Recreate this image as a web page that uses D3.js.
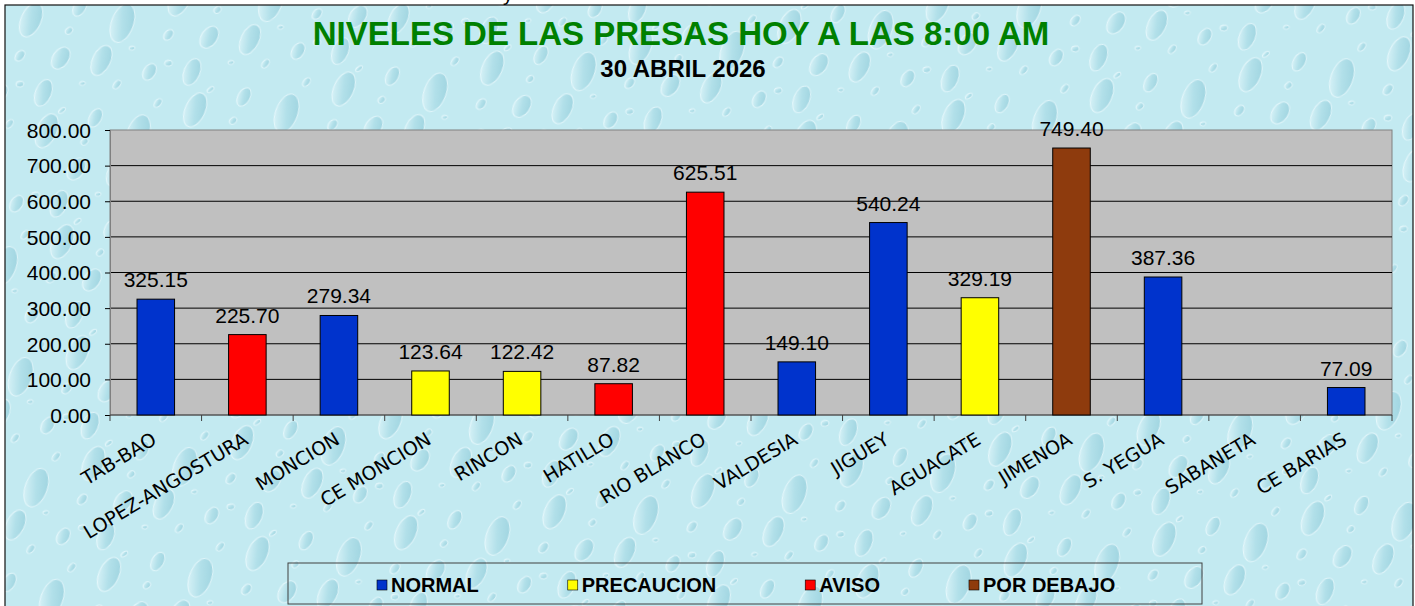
<!DOCTYPE html>
<html>
<head>
<meta charset="utf-8">
<script src="https://cdn.jsdelivr.net/npm/d3@7"></script>
<style>
  html, body { margin: 0; padding: 0; background: #fff; }
  svg { display: block; }
</style>
</head>
<body>
<div id="chart"></div>
<script>
// data
const presas = ["TAB-BAO", "LOPEZ-ANGOSTURA", "MONCION", "CE MONCION", "RINCON", "HATILLO",
  "RIO BLANCO", "VALDESIA", "JIGUEY", "AGUACATE", "JIMENOA", "S. YEGUA", "SABANETA", "CE BARIAS"];
const niveles = [325.15, 225.70, 279.34, 123.64, 122.42, 87.82, 625.51, 149.10, 540.24, 329.19,
  749.40, 387.36, null, 77.09];
const estados = ["NORMAL", "AVISO", "NORMAL", "PRECAUCION", "PRECAUCION", "AVISO", "AVISO",
  "NORMAL", "NORMAL", "PRECAUCION", "POR DEBAJO", "NORMAL", null, "NORMAL"];
const leyenda = ["NORMAL", "PRECAUCION", "AVISO", "POR DEBAJO"];
const colores = ["#0033cc", "#ffff00", "#ff0000", "#8e3b0d"];
const yTicks = [0, 100, 200, 300, 400, 500, 600, 700, 800];

const W = 1415, H = 606;
const plot = { left: 110, top: 130, right: 1392, bottom: 415 };
const FONT = "'Liberation Sans', Arial, sans-serif";

let svg = d3.select("#chart").append("svg")
  .attr("width", W).attr("height", H);

// water drop background (rough stand-in for the picture texture)
let defs = svg.append("defs");
let grad = defs.append("linearGradient").attr("id", "drop")
  .attr("x1", "0.2").attr("y1", "0").attr("x2", "0.8").attr("y2", "1");
grad.append("stop").attr("offset", "0").attr("stop-color", "#e8f9fc");
grad.append("stop").attr("offset", "0.5").attr("stop-color", "#a6d9e4");
grad.append("stop").attr("offset", "1").attr("stop-color", "#86c5d4");

let pat = defs.append("pattern").attr("id", "drops")
  .attr("patternUnits", "userSpaceOnUse")
  .attr("width", 150).attr("height", 112)
  .attr("patternTransform", "rotate(-8)");
pat.append("rect").attr("width", 150).attr("height", 112).attr("fill", "#c3eaf1");
// cx, cy, rx, ry, angle
const gotas = [
  [28, 24, 18, 10, -58], [78, 18, 10, 6, -52], [118, 40, 20, 11, -62], [52, 66, 12, 8, -48],
  [12, 58, 6, 4, -40], [92, 74, 16, 9, -56], [138, 92, 9, 6, -50], [30, 98, 14, 8, -60],
  [64, 40, 4, 3, -30], [104, 100, 5, 3, -40], [142, 12, 5, 3, -40], [8, 86, 4, 3, 0],
  [70, 94, 3, 2, 0], [46, 6, 4, 2, -30], [124, 66, 3, 2, 0]
];
pat.selectAll("ellipse").data(gotas).enter().append("ellipse")
  .attr("cx", d => d[0]).attr("cy", d => d[1])
  .attr("rx", d => d[2]).attr("ry", d => d[3])
  .attr("transform", d => `rotate(${d[4]},${d[0]},${d[1]})`)
  .attr("fill", "url(#drop)").attr("fill-opacity", 0.6)
  .attr("stroke", "#f2fdff").attr("stroke-opacity", 0.7).attr("stroke-width", 1);

svg.append("rect").attr("x", 5).attr("y", 5).attr("width", W - 7).attr("height", H)
  .attr("fill", "url(#drops)").attr("stroke", "#111").attr("stroke-width", 1.2);

// glyph tail cut by the top edge, as in the picture
svg.append("text").attr("x", 503).attr("y", 1).attr("font-family", FONT)
  .attr("font-size", 20).attr("fill", "#000").text("y");

// titles
svg.append("text").attr("x", 681).attr("y", 45).attr("text-anchor", "middle")
  .attr("font-family", FONT).attr("font-weight", "bold").attr("font-size", 33)
  .attr("fill", "#008000").text("NIVELES DE LAS PRESAS HOY A LAS 8:00 AM");
svg.append("text").attr("x", 683).attr("y", 77).attr("text-anchor", "middle")
  .attr("font-family", FONT).attr("font-weight", "bold").attr("font-size", 24)
  .attr("fill", "#000").text("30 ABRIL 2026");

// scales
let x = d3.scaleBand().domain(presas).range([plot.left, plot.right]).padding(0);
let y = d3.scaleLinear().domain([0, 800]).range([plot.bottom, plot.top]);
let color = d3.scaleOrdinal().domain(leyenda).range(colores);

// plot area
svg.append("rect").attr("x", plot.left).attr("y", plot.top)
  .attr("width", plot.right - plot.left).attr("height", plot.bottom - plot.top)
  .attr("fill", "#c0c0c0").attr("stroke", "#808080").attr("stroke-width", 1);

svg.append("g").selectAll("line").data(yTicks.slice(1, -1)).enter().append("line")
  .attr("x1", plot.left).attr("x2", plot.right)
  .attr("y1", d => y(d)).attr("y2", d => y(d))
  .attr("stroke", "#000").attr("stroke-width", 1);

// y axis
let yAxis = svg.append("g").attr("transform", `translate(${plot.left},0)`)
  .call(d3.axisLeft(y).tickValues(yTicks).tickFormat(d3.format(".2f")).tickSize(5).tickPadding(14));
yAxis.select(".domain").attr("stroke", "#808080");
yAxis.selectAll(".tick line").attr("stroke", "#000");
yAxis.selectAll("text").attr("font-family", FONT).attr("font-size", 21).attr("fill", "#000")
  .attr("dy", "0.35em");

// x axis: ticks on band edges
let edges = presas.map(d => x(d)).concat([plot.right]);
svg.append("line").attr("x1", plot.left).attr("x2", plot.right)
  .attr("y1", plot.bottom).attr("y2", plot.bottom).attr("stroke", "#404040");
svg.append("g").selectAll("line").data(edges).enter().append("line")
  .attr("x1", d => d).attr("x2", d => d)
  .attr("y1", plot.bottom).attr("y2", plot.bottom + 6)
  .attr("stroke", "#404040");

svg.append("g").selectAll("text").data(presas).enter().append("text")
  .attr("transform", d => `translate(${x(d) + x.bandwidth() / 2 + 2},${plot.bottom + 28}) rotate(-31)`)
  .attr("text-anchor", "end")
  .attr("font-family", "'DejaVu Sans', Verdana, sans-serif").attr("font-size", 19)
  .attr("fill", "#000").text(d => d);

// bars
let filas = presas.map((p, i) => ({ presa: p, nivel: niveles[i], estado: estados[i] }))
  .filter(d => d.nivel != null);
let bw = x.bandwidth() * 0.41;
svg.append("g").selectAll("rect").data(filas).enter().append("rect")
  .attr("x", d => x(d.presa) + (x.bandwidth() - bw) / 2)
  .attr("y", d => y(d.nivel))
  .attr("width", bw)
  .attr("height", d => y(0) - y(d.nivel))
  .attr("fill", d => color(d.estado))
  .attr("stroke", "#000").attr("stroke-width", 1);

svg.append("g").selectAll("text").data(filas).enter().append("text")
  .attr("x", d => x(d.presa) + x.bandwidth() / 2)
  .attr("y", d => y(d.nivel) - 12)
  .attr("text-anchor", "middle")
  .attr("font-family", FONT).attr("font-size", 21).attr("fill", "#000")
  .text(d => d3.format(".2f")(d.nivel));

// legend
let leg = svg.append("g");
leg.append("rect").attr("x", 288).attr("y", 563).attr("width", 914).attr("height", 41)
  .attr("fill", "none").attr("stroke", "#404040").attr("stroke-width", 1);
let lx = 377;
leyenda.forEach((k, i) => {
  leg.append("rect").attr("x", lx).attr("y", 580).attr("width", 10).attr("height", 10)
    .attr("fill", colores[i]).attr("stroke", "#000").attr("stroke-width", 0.6);
  let t = leg.append("text").attr("x", lx + 14).attr("y", 592)
    .attr("font-family", FONT).attr("font-weight", "bold").attr("font-size", 20)
    .attr("fill", "#000").text(k);
  lx += 14 + t.node().getComputedTextLength() + 89;
});
</script>
</body>
</html>
